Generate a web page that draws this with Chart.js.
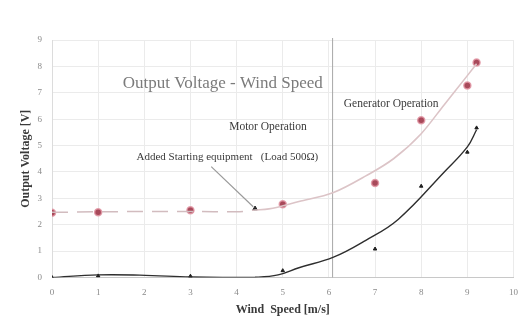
<!DOCTYPE html>
<html>
<head>
<meta charset="utf-8">
<script src="https://cdn.jsdelivr.net/npm/chart.js@4.4.1/dist/chart.umd.min.js"></script>
<style>
  html, body { margin: 0; padding: 0; background: #fff; }
  #wrap { width: 528px; height: 325px; }
</style>
</head>
<body>
<div id="wrap"><canvas id="graphique" width="528" height="325"></canvas></div>
<script>
// measured points
let vitesseRouge = [0, 1, 3, 5, 7, 8, 9, 9.2];
let tensionRouge = [2.45, 2.47, 2.55, 2.78, 3.58, 5.96, 7.28, 8.15];
let vitesseNoir = [0, 1, 3, 5, 7, 8, 9, 9.2];
let tensionNoir = [0.0, 0.06, 0.05, 0.26, 1.08, 3.46, 4.75, 5.67];

// starting point marker
let vitesseDepart = [4.4];
let tensionDepart = [2.61];

// trend curves
let courbeRougeTiretX = [0, 1, 2, 3, 4, 4.4];
let courbeRougeTiretY = [2.47, 2.49, 2.5, 2.5, 2.49, 2.56];
let courbeRougeX = [4.4, 4.7, 5.35, 6.1, 6.8, 7.4, 8.0, 8.5, 9.0, 9.2];
let courbeRougeY = [2.56, 2.6, 2.88, 3.22, 3.85, 4.5, 5.45, 6.55, 7.65, 8.1];
let courbeNoirX = [0, 1, 1.9, 3, 3.7, 4.4, 4.9, 5.35, 6.1, 6.8, 7.5, 8.5, 9.0, 9.2];
let courbeNoirY = [0, 0.1, 0.09, 0.02, 0, 0.01, 0.1, 0.37, 0.77, 1.41, 2.2, 4.0, 4.95, 5.6];

let graduationsX = [0, 1, 2, 3, 4, 5, 6, 7, 8, 9, 10];
let graduationsY = [0, 1, 2, 3, 4, 5, 6, 7, 8, 9];

let ligneSeparation = 6.08;

let textes = [
    { texte: "Output Voltage - Wind Speed", x: 3.7, y: 7.36, taille: 17, couleur: "#7b7b7b" },
    { texte: "Generator Operation", x: 7.35, y: 6.58, taille: 11.5, couleur: "#3a3a3a" },
    { texte: "Motor Operation", x: 4.68, y: 5.7, taille: 11.5, couleur: "#3a3a3a" },
    { texte: "Added Starting equipment   (Load 500\u03A9)", x: 3.8, y: 4.58, taille: 11, couleur: "#3a3a3a" }
];
let fleche = { x1: 3.45, y1: 4.2, x2: 4.36, y2: 2.68 };

function paires(xs, ys) {
    let res = [];
    for (let i = 0; i < xs.length; i++) {
        res.push({ x: xs[i], y: ys[i] });
    }
    return res;
}

let police = "'Liberation Serif', 'DejaVu Serif', serif";

// vertical line, arrow and free texts
let annotations = {
    id: "annotations",
    beforeDatasetsDraw(chart) {
        let ctx = chart.ctx;
        let sx = chart.scales.x;
        ctx.save();
        ctx.strokeStyle = "#a8a8a8";
        ctx.lineWidth = 1;
        let px = sx.getPixelForValue(ligneSeparation);
        ctx.beginPath();
        ctx.moveTo(px, chart.chartArea.top - 2);
        ctx.lineTo(px, chart.chartArea.bottom);
        ctx.stroke();
        ctx.restore();
    },
    afterDatasetsDraw(chart) {
        let ctx = chart.ctx;
        let sx = chart.scales.x;
        let sy = chart.scales.y;
        ctx.save();
        ctx.strokeStyle = "#9a9a9a";
        ctx.lineWidth = 1.2;
        ctx.beginPath();
        ctx.moveTo(sx.getPixelForValue(fleche.x1), sy.getPixelForValue(fleche.y1));
        ctx.lineTo(sx.getPixelForValue(fleche.x2), sy.getPixelForValue(fleche.y2));
        ctx.stroke();

        ctx.textAlign = "center";
        ctx.textBaseline = "middle";
        textes.forEach(function (t) {
            ctx.font = t.taille + "px " + police;
            ctx.fillStyle = t.couleur;
            ctx.fillText(t.texte, sx.getPixelForValue(t.x), sy.getPixelForValue(t.y));
        });
        ctx.restore();
    }
};

let ctx = document.getElementById("graphique").getContext("2d");
let chart = new Chart(ctx, {
    type: "scatter",
    data: {
        datasets: [
            {
                label: "courbe rouge tirets",
                type: "line",
                data: paires(courbeRougeTiretX, courbeRougeTiretY),
                borderColor: "#d2bcbf",
                borderWidth: 1.5,
                borderDash: [16, 9],
                pointRadius: 0,
                cubicInterpolationMode: "monotone",
                fill: false
            },
            {
                label: "courbe rouge",
                type: "line",
                data: paires(courbeRougeX, courbeRougeY),
                borderColor: "#dcc4c7",
                borderWidth: 1.6,
                pointRadius: 0,
                cubicInterpolationMode: "monotone",
                fill: false
            },
            {
                label: "courbe noire",
                type: "line",
                data: paires(courbeNoirX, courbeNoirY),
                borderColor: "#2e2e2e",
                borderWidth: 1.4,
                pointRadius: 0,
                tension: 0.4,
                fill: false
            },
            {
                label: "tension rouge",
                data: paires(vitesseRouge, tensionRouge),
                pointStyle: "circle",
                pointRadius: 3.5,
                pointBackgroundColor: "#a8495a",
                pointBorderColor: "rgba(226,150,165,0.85)",
                pointBorderWidth: 1.5
            },
            {
                label: "tension noire",
                data: paires(vitesseNoir, tensionNoir),
                pointStyle: "triangle",
                pointRadius: 2,
                pointBackgroundColor: "#1e1e1e",
                pointBorderColor: "#1e1e1e",
                pointBorderWidth: 1
            },
            {
                label: "depart",
                data: paires(vitesseDepart, tensionDepart),
                pointStyle: "triangle",
                pointRadius: 2.6,
                pointBackgroundColor: "#262626",
                pointBorderColor: "#262626",
                pointBorderWidth: 1
            }
        ]
    },
    options: {
        responsive: false,
        animation: false,
        layout: { padding: { left: 19, right: 6, top: 40, bottom: 8 } },
        plugins: {
            legend: { display: false },
            tooltip: { enabled: false }
        },
        scales: {
            x: {
                type: "linear",
                min: 0,
                max: 10,
                afterBuildTicks: function (axis) {
                    axis.ticks = graduationsX.map(function (v) { return { value: v }; });
                },
                afterFit: function (axis) { axis.height = 39.5; },
                grid: { color: "#ebebeb", drawTicks: false },
                border: { color: "#c8c8c8" },
                ticks: {
                    padding: 10,
                    color: "#8a8a8a",
                    font: { family: police, size: 9 }
                },
                title: {
                    display: true,
                    text: "Wind  Speed [m/s]",
                    color: "#3a3a3a",
                    font: { family: police, size: 12, weight: "bold" },
                    padding: { top: 0, bottom: 0 }
                }
            },
            y: {
                type: "linear",
                min: 0,
                max: 9,
                afterBuildTicks: function (axis) {
                    axis.ticks = graduationsY.map(function (v) { return { value: v }; });
                },
                afterFit: function (axis) { axis.width = 33; },
                grid: { color: "#ebebeb", drawTicks: false },
                border: { color: "#dcdcdc" },
                ticks: {
                    padding: 10,
                    color: "#8a8a8a",
                    font: { family: police, size: 9 }
                },
                title: {
                    display: true,
                    text: "Output Voltage [V]",
                    color: "#3a3a3a",
                    font: { family: police, size: 12, weight: "bold" },
                    padding: { top: 0, bottom: 0 }
                }
            }
        }
    },
    plugins: [annotations]
});
</script>
</body>
</html>
